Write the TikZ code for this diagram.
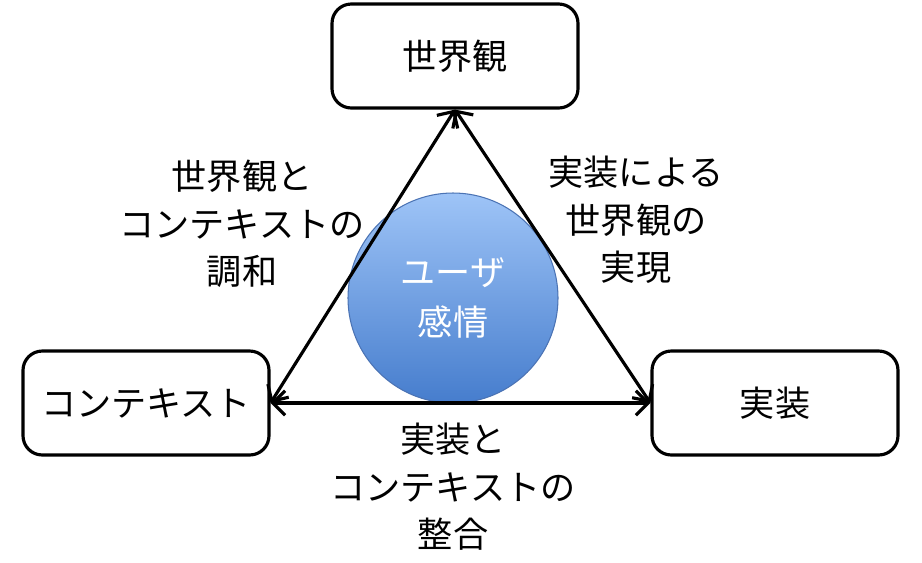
\documentclass[tikz,border=0pt]{standalone}
\usepackage{fontspec}
\setmainfont{Noto Sans CJK JP}
\usepackage{tikz}
\usetikzlibrary{arrows.meta,positioning}
\definecolor{circtop}{RGB}{158,196,247}
\definecolor{circbot}{RGB}{70,125,205}
\definecolor{circline}{RGB}{75,115,180}
\tikzset{
  rbox/.style={draw=black, line width=1.8pt, rounded corners=11pt, fill=white,
    minimum width=246*0.02cm, minimum height=104*0.02cm, font=\fontsize{20}{27}\selectfont},
  lbl/.style={align=center, font=\fontsize{20}{27}\selectfont},
  link/.style={line width=1.8pt, {Straight Barb[length=7pt,width=14pt]}-{Straight Barb[length=7pt,width=14pt]}}
}

\begin{document}
\begin{tikzpicture}[x=0.02cm, y=-0.02cm]
  \useasboundingbox (0,0) rectangle (922,562);

  % the three corners
  \node[rbox] (world) at (455,56) {世界観};
  \node[rbox] (ctx) at (146,403) {コンテキスト};
  \node[rbox] (impl) at (775,403) {実装};

  % user emotion in the middle
  \node[circle, minimum size=210*0.02cm, draw=circline, line width=0.6pt,
    top color=circtop, bottom color=circbot, text=white, align=center,
    font=\fontsize{20}{28}\selectfont] (emo) at (453,298) {ユーザ\\感情};

  % edges of the triangle
  \draw[link] (world.south) -- (ctx.east);
  \draw[link] (world.south) -- (impl.west);
  \draw[link] (ctx.east) -- (impl.west);

  % edge labels
  \node[lbl] (harmony) at (242,224) {世界観と\\コンテキストの\\調和};
  \node[lbl] (realize) at (636,220) {実装による\\世界観の\\実現};
  \node[lbl] (match) at (453,487) {実装と\\コンテキストの\\整合};
\end{tikzpicture}
\end{document}
